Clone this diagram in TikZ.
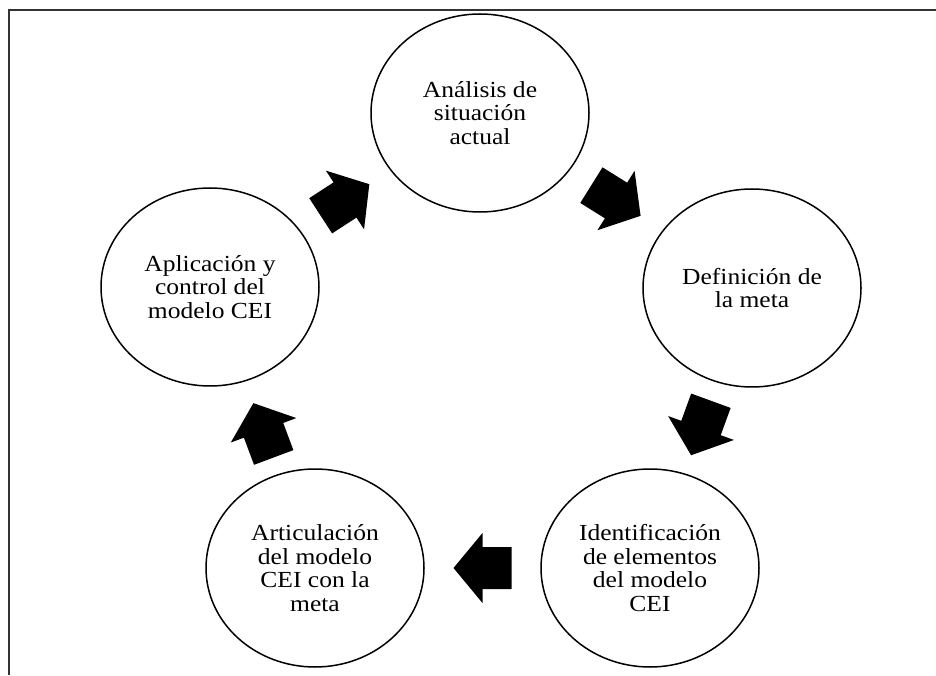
\documentclass[tikz,border=0pt]{standalone}
\usepackage{fontspec}
\setmainfont{Liberation Serif}[FakeStretch=1.11]
\usetikzlibrary{shapes.geometric,calc}
\tikzset{
  stage/.style={ellipse, draw, line width=1.5pt, minimum width=218pt,
    minimum height=198pt, inner sep=0pt, align=center,
    font=\fontsize{23}{23.5}\selectfont},
  blockarrow/.pic={
    \fill[black] (-29,21) -- (0,21) -- (0,35) -- (29,0) -- (0,-35)
      -- (0,-21) -- (-29,-21) -- cycle;
  }
}
\begin{document}
\begin{tikzpicture}[x=1pt,y=1pt]
\useasboundingbox (0,0) rectangle (936,675);
% frame
\draw[line width=1.2pt, black!80] (9,0) -- (9,665) -- (936,665);
% stages of the cycle
\node[stage] (anal)  at (480,562) {Análisis de\\situación\\actual};
\node[stage] (defin) at (752,387) {Definición de\\la meta};
\node[stage] (ident) at (650,107) {Identificación\\de elementos\\del modelo\\CEI};
\node[stage] (artic) at (315,107) {Articulación\\del modelo\\CEI con la\\meta};
\node[stage] (aplic) at (210,388) {Aplicación y\\control del\\modelo CEI};
% block arrows between stages
\pic[rotate=33]    at ($(aplic)!0.5!(anal)$)  {blockarrow};
\pic[rotate=-32]   at ($(anal)!0.5!(defin)$)  {blockarrow};
\pic[rotate=-110]  at ($(defin)!0.5!(ident)$) {blockarrow};
\pic[rotate=180]   at ($(ident)!0.5!(artic)$) {blockarrow};
\pic[rotate=110.5] at ($(artic)!0.49!(aplic)$) {blockarrow};
\end{tikzpicture}
\end{document}
